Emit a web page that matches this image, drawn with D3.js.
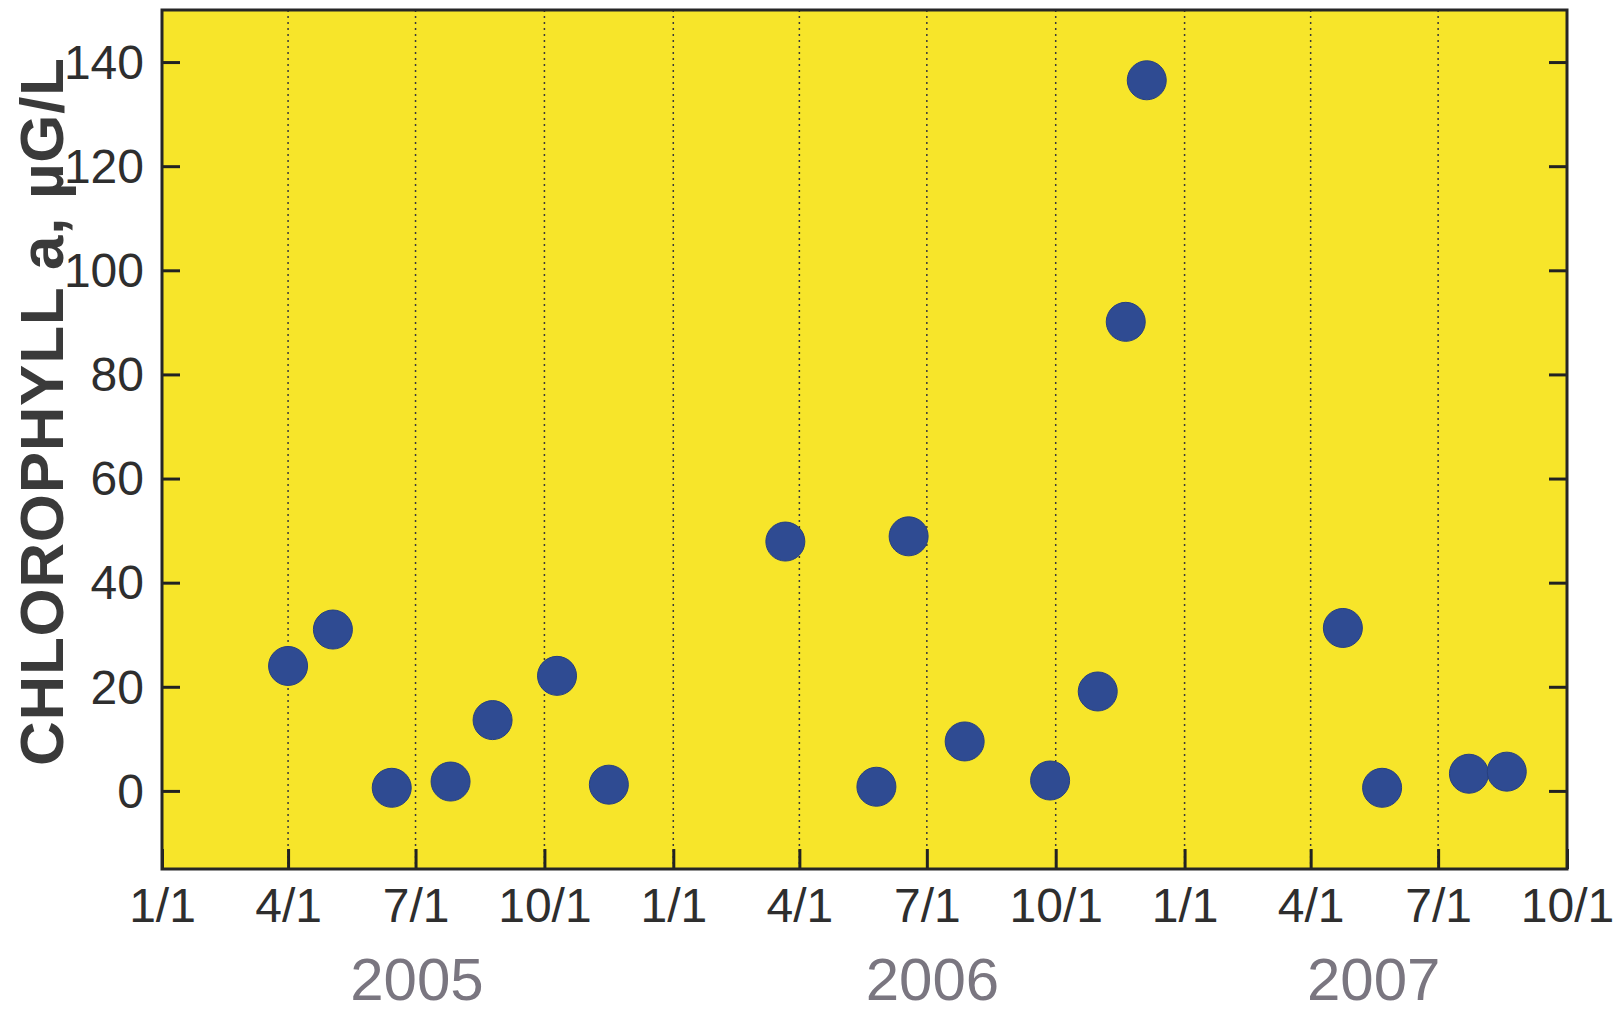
<!DOCTYPE html>
<html>
<head>
<meta charset="utf-8">
<script src="https://cdn.jsdelivr.net/npm/d3@7"></script>
<style>
  html, body { margin: 0; padding: 0; background: #ffffff; }
  svg { display: block; }
</style>
</head>
<body>
<svg id="chart" width="1615" height="1014"></svg>
<script>
// ---- Data ----
const sampleDates = [
  "2005-04-01", "2005-05-03", "2005-06-14", "2005-07-26", "2005-08-25",
  "2005-10-10", "2005-11-16", "2006-03-22", "2006-05-26", "2006-06-18",
  "2006-07-28", "2006-09-27", "2006-10-31", "2006-11-20", "2006-12-05",
  "2007-04-24", "2007-05-22", "2007-07-23", "2007-08-19"
];
const chlorophyll = [
  24, 31, 0.6, 1.8, 13.6,
  22.1, 1.2, 47.9, 0.8, 48.9,
  9.5, 2.0, 19.1, 90.1, 136.5,
  31.3, 0.6, 3.3, 3.7
];
const xTickDates = [
  "2005-01-01", "2005-04-01", "2005-07-01", "2005-10-01",
  "2006-01-01", "2006-04-01", "2006-07-01", "2006-10-01",
  "2007-01-01", "2007-04-01", "2007-07-01", "2007-10-01"
];
const xTickLabels = ["1/1", "4/1", "7/1", "10/1", "1/1", "4/1", "7/1", "10/1", "1/1", "4/1", "7/1", "10/1"];
const yTicks = [0, 20, 40, 60, 80, 100, 120, 140];
const yearLabels = ["2005", "2006", "2007"];
const yearCenters = ["2005-07-02", "2006-07-05", "2007-05-16"];
const yTitle = "CHLOROPHYLL a, \u00B5G/L";

// ---- Layout ----
const parse = d3.timeParse("%Y-%m-%d");
const pL = 162, pR = 1567, pT = 10, pB = 869;
const svg = d3.select("#chart");

const x = d3.scaleTime()
  .domain([parse("2005-01-01"), parse("2007-10-01")])
  .range([pL, pR]);
const y = d3.scaleLinear()
  .domain([-15, 150])
  .range([pB, pT]);

const tickFont = "'Liberation Sans Narrow', 'Arial Narrow', 'Liberation Sans', Arial, sans-serif";
const textColor = "#2e2e2e";

// plot background
svg.append("rect")
  .attr("x", pL).attr("y", pT)
  .attr("width", pR - pL).attr("height", pB - pT)
  .attr("fill", "#f7e52a");

// dotted vertical grid lines
const xTicks = xTickDates.map(parse);
svg.append("g").selectAll("line")
  .data(xTicks.slice(1, -1))
  .join("line")
  .attr("x1", d => x(d)).attr("x2", d => x(d))
  .attr("y1", pT).attr("y2", pB)
  .attr("stroke", "#3a3a3a")
  .attr("stroke-width", 1.5)
  .attr("stroke-dasharray", "2,4");

// bottom axis (ticks inside)
const xAxis = d3.axisBottom(x)
  .tickValues(xTicks)
  .tickFormat((d, i) => xTickLabels[i])
  .tickSizeInner(-20)
  .tickSizeOuter(0)
  .tickPadding(30);
const gx = svg.append("g").attr("transform", `translate(0,${pB})`).call(xAxis);
gx.select(".domain").remove();
gx.selectAll(".tick line").attr("stroke", "#222").attr("stroke-width", 3);
gx.selectAll(".tick text")
  .attr("font-family", tickFont)
  .attr("font-size", 48)
  .attr("fill", textColor)
  .attr("dy", "0.71em")
  .attr("y", 19);

// left axis (ticks inside)
const yAxisL = d3.axisLeft(y)
  .tickValues(yTicks)
  .tickFormat(d3.format("d"))
  .tickSizeInner(-18)
  .tickSizeOuter(0)
  .tickPadding(18);
const gyl = svg.append("g").attr("transform", `translate(${pL},0)`).call(yAxisL);
gyl.select(".domain").remove();
gyl.selectAll(".tick line").attr("stroke", "#222").attr("stroke-width", 3);
gyl.selectAll(".tick text")
  .attr("font-family", tickFont)
  .attr("font-size", 48)
  .attr("fill", textColor)
  .attr("dy", "0.34em");

// right axis (ticks inside, no labels)
const yAxisR = d3.axisRight(y)
  .tickValues(yTicks)
  .tickFormat("")
  .tickSizeInner(-18)
  .tickSizeOuter(0);
const gyr = svg.append("g").attr("transform", `translate(${pR},0)`).call(yAxisR);
gyr.select(".domain").remove();
gyr.selectAll(".tick line").attr("stroke", "#222").attr("stroke-width", 3);

// frame
svg.append("rect")
  .attr("x", pL).attr("y", pT)
  .attr("width", pR - pL).attr("height", pB - pT)
  .attr("fill", "none")
  .attr("stroke", "#262626")
  .attr("stroke-width", 3);

// data points
const points = sampleDates.map((d, i) => ({ date: parse(d), value: chlorophyll[i] }));
svg.append("g").selectAll("circle")
  .data(points)
  .join("circle")
  .attr("cx", d => x(d.date))
  .attr("cy", d => y(d.value))
  .attr("r", 19.5)
  .attr("fill", "#2f4b92")
  .attr("stroke", "#27407f")
  .attr("stroke-width", 1);

// year labels
svg.append("g").selectAll("text")
  .data(yearLabels)
  .join("text")
  .attr("x", (d, i) => x(parse(yearCenters[i])))
  .attr("y", 1000)
  .attr("text-anchor", "middle")
  .attr("font-family", "'Liberation Sans', Arial, sans-serif")
  .attr("font-size", 60)
  .attr("fill", "#7a7680")
  .text(d => d);

// y-axis title
svg.append("text")
  .attr("transform", "translate(63,412) rotate(-90)")
  .attr("text-anchor", "middle")
  .attr("font-family", "'Liberation Sans', Arial, sans-serif")
  .attr("font-weight", "bold")
  .attr("font-size", 62)
  .attr("textLength", 708)
  .attr("lengthAdjust", "spacing")
  .attr("fill", "#3a3a3a")
  .text(yTitle);
</script>
</body>
</html>
